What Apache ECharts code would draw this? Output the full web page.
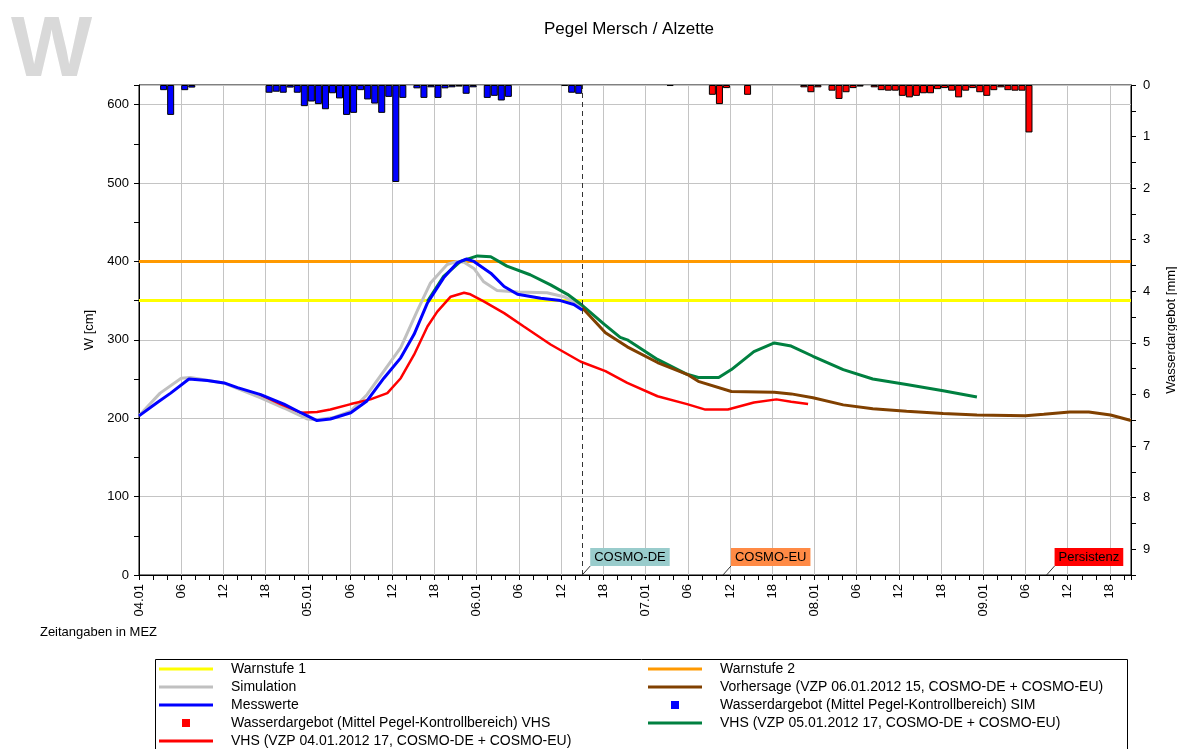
<!DOCTYPE html>
<html><head><meta charset="utf-8">
<script src="https://cdn.jsdelivr.net/npm/echarts@6/dist/echarts.min.js"></script>
<style>html,body{margin:0;padding:0;background:#fff}#c{width:1177px;height:749px}</style>
</head><body><div id="c"></div>
<script>
// Time axis: hours after 04.01.2012 00:00 (MEZ)
const X_MIN = 0, X_MAX = 141;
const dayLabels = {0:'04.01', 24:'05.01', 48:'06.01', 72:'07.01', 96:'08.01', 120:'09.01'};
const W_MAX = 625, MM_MAX = 9.5;
const warnstufe1 = 350, warnstufe2 = 400;
const forecastStart = 63; // VZP 06.01.2012 15

const simulation = [[0,203],[3,232],[6,251],[7.3,252],[12,245],[17.3,226],[20.6,213],[23.9,199],[25.3,198],[27.7,201],[30.1,209],[32.4,230],[34.8,260],[37.2,290],[39.5,336],[41.4,372],[43.8,396],[45.2,400],[46.2,399],[47.6,391],[49,374],[50.9,363],[53.8,361],[58,360],[60.4,355],[62.5,345],[63,341]];
const messwerte = [[0,203],[2.6,220],[4.5,232],[7.1,250],[9.7,248],[12.1,245],[14,239],[17.3,230],[20.6,218],[23,207],[25.3,197],[27.2,199],[30.1,207],[32.4,222],[34.8,251],[37.2,277],[39.1,307],[41,347],[43.3,379],[45.2,398],[46.5,403],[47.6,400],[50,385],[51.9,368],[53.8,358],[57.1,353],[59.9,350],[61.8,345],[63,338]];
const vhs0417 = [[17,231],[20.1,218],[23,207],[25.3,208],[27.2,211],[30.1,218],[32.9,224],[35.3,232],[37.2,251],[39.1,281],[41,317],[42.4,336],[44.3,355],[46.2,360],[47.1,358],[49,349],[51.9,334],[54.7,317],[58.5,294],[62.8,272],[66.3,260],[69.4,245],[73.7,228],[77.9,218],[80.5,211],[83.7,211],[87.4,220],[90.6,224],[92.7,221],[95.1,218]];
const vhs0517 = [[41,349],[43.3,381],[45.7,400],[48.1,407],[50,406],[52.3,394],[55.6,383],[58.5,370],[60.9,358],[63,344],[66.1,320],[68.4,303],[69.4,300],[73.7,275],[77.9,256],[79.5,252],[82.4,252],[84.2,262],[87.4,285],[90.3,296],[92.7,292],[95.8,279],[100.1,262],[104.3,250],[109.1,243],[114.3,235],[119.1,227]];
const vorhersage = [[63,341],[66.3,309],[69.4,291],[73.7,271],[77.9,256],[79.5,247],[84.2,234],[90.3,233],[92.7,231],[95.8,226],[100.1,217],[104.3,212],[109.1,209],[114.3,206],[119.1,204],[126,203],[128.6,205],[132.3,208],[135,208],[138.1,204],[141,197]];

const simBarHours  = [3,4,6,7,18,19,20,21,22,23,24,25,26,27,28,29,30,31,32,33,34,35,36,37,39,40,41,42,43,44,45,46,47,49,50,51,52,60,61,62];
const simBarValues = [0.1,0.58,0.1,0.05,0.15,0.13,0.15,0.05,0.15,0.41,0.32,0.37,0.47,0.16,0.26,0.58,0.54,0.1,0.28,0.36,0.54,0.23,1.88,0.25,0.065,0.25,0.045,0.25,0.065,0.045,0.03,0.17,0.045,0.25,0.21,0.3,0.23,0.02,0.15,0.17];
const vhsBarHours  = [75,81,82,83,86,94,95,96,98,99,100,101,102,104,105,106,107,108,109,110,111,112,113,114,115,116,117,118,119,120,121,122,123,124,125,126];
const vhsBarValues = [0.02,0.19,0.37,0.06,0.19,0.045,0.14,0.045,0.11,0.27,0.14,0.06,0.03,0.045,0.1,0.11,0.11,0.21,0.24,0.21,0.16,0.16,0.08,0.06,0.11,0.24,0.11,0.06,0.14,0.21,0.1,0.045,0.1,0.11,0.11,0.92];

const annotHours  = [63, 83, 129];
const annotTexts  = ['COSMO-DE', 'COSMO-EU', 'Persistenz'];
const annotColors = ['#99CCCC', '#FF8A45', '#FF0000'];

const N_W1 = 'Warnstufe 1', N_W2 = 'Warnstufe 2', N_SIM = 'Simulation', N_MESS = 'Messwerte';
const N_VOR = 'Vorhersage (VZP 06.01.2012 15, COSMO-DE + COSMO-EU)';
const N_BSIM = 'Wasserdargebot (Mittel Pegel-Kontrollbereich) SIM';
const N_BVHS = 'Wasserdargebot (Mittel Pegel-Kontrollbereich) VHS';
const N_V05 = 'VHS (VZP 05.01.2012 17, COSMO-DE + COSMO-EU)';
const N_V04 = 'VHS (VZP 04.01.2012 17, COSMO-DE + COSMO-EU)';

const FONT = 'Liberation Sans, Arial, sans-serif';
const pad2 = n => (n < 10 ? '0' : '') + n;
const sq = 'path://M0,0H10V10H0Z';
const ln3 = 'path://M0,0H54V3H0Z';
const lineItem = name => ({name, icon: ln3});
const sqItem = name => ({name, icon: sq, itemStyle: {borderWidth: 0}});

const chart = echarts.init(document.getElementById('c'), null, {renderer: 'canvas'});
function lineS(name, data, color, width, z) {
  return {name, type: 'line', data, symbol: 'none', showSymbol: false, z: z || 3,
    lineStyle: {color, width}, itemStyle: {color}, animation: false};
}
const legendCommon = {orient: 'vertical', itemWidth: 54, itemHeight: 8, itemGap: 4, padding: 0, selectedMode: false,
  textStyle: {fontSize: 14, color: '#000', fontFamily: FONT, padding: [0,0,0,13], lineHeight: 14}};

const option = {
  animation: false,
  textStyle: {fontFamily: FONT},
  title: {text: 'Pegel Mersch / Alzette', left: 544, top: 21, padding: 0,
    textStyle: {fontSize: 17, fontWeight: 'normal', color: '#000', fontFamily: FONT}},
  grid: {left: 139, right: 46, top: 85, bottom: 174, show: true, borderColor: '#000', borderWidth: 1, outerBoundsMode: 'none', containLabel: false},
  legend: [
    Object.assign({left: 159, top: 662, data: [lineItem(N_W1), lineItem(N_SIM), lineItem(N_MESS), sqItem(N_BVHS), lineItem(N_V04)]}, legendCommon),
    Object.assign({left: 648, top: 662, data: [lineItem(N_W2), lineItem(N_VOR), sqItem(N_BSIM), lineItem(N_V05)]}, legendCommon)
  ],
  xAxis: {type: 'value', min: X_MIN, max: X_MAX, interval: 6,
    axisLine: {lineStyle: {color: '#000', width: 1}},
    axisTick: {length: 5, lineStyle: {color: '#000'}},
    minorTick: {show: true, splitNumber: 3, length: 5, lineStyle: {color: '#000'}},
    splitLine: {show: true, lineStyle: {color: '#c4c4c4', width: 1}},
    axisLabel: {rotate: 90, margin: 9, fontSize: 13, color: '#000', showMaxLabel: true,
      formatter: v => dayLabels[v] !== undefined ? dayLabels[v] : (v % 6 === 0 ? pad2(v % 24) : '')}
  },
  yAxis: [
    {type: 'value', min: 0, max: W_MAX, interval: 100, position: 'left',
      name: 'W [cm]', nameLocation: 'middle', nameGap: 37, nameTextStyle: {fontSize: 13, color: '#000'},
      axisLine: {show: true, lineStyle: {color: '#000'}},
      axisTick: {show: true, length: 5, lineStyle: {color: '#000'}},
      minorTick: {show: true, splitNumber: 2, length: 5, lineStyle: {color: '#000'}},
      splitLine: {show: true, lineStyle: {color: '#c4c4c4', width: 1}},
      axisLabel: {fontSize: 13, color: '#000', margin: 10, formatter: v => (v % 100 === 0 ? String(v) : '')}},
    {type: 'value', min: 0, max: MM_MAX, interval: 1, inverse: true, position: 'right',
      name: 'Wasserdargebot [mm]', nameLocation: 'middle', nameGap: 34, nameTextStyle: {fontSize: 13, color: '#000'},
      axisLine: {show: true, lineStyle: {color: '#000'}},
      axisTick: {show: true, length: 5, lineStyle: {color: '#000'}},
      minorTick: {show: true, splitNumber: 2, length: 5, lineStyle: {color: '#000'}},
      splitLine: {show: false},
      axisLabel: {fontSize: 13, color: '#000', margin: 12, formatter: v => (Number.isInteger(v) ? String(v) : '')}}
  ],
  series: [
    lineS(N_W1, [[X_MIN, warnstufe1], [X_MAX, warnstufe1]], '#FFFF00', 3, 2),
    lineS(N_W2, [[X_MIN, warnstufe2], [X_MAX, warnstufe2]], '#FF9900', 3, 2),
    {name: N_BSIM, type: 'bar', yAxisIndex: 1, barWidth: 7, barGap: '-100%', z: 2,
      data: simBarHours.map((h, i) => [h + 0.5, simBarValues[i]]),
      itemStyle: {color: '#0000FF', borderColor: '#000', borderWidth: 1}},
    {name: N_BVHS, type: 'bar', yAxisIndex: 1, barWidth: 7, barGap: '-100%', z: 2,
      data: vhsBarHours.map((h, i) => [h + 0.5, vhsBarValues[i]]),
      itemStyle: {color: '#FF0000', borderColor: '#000', borderWidth: 1}},
    lineS(N_SIM, simulation, '#C0C0C0', 3, 3),
    lineS(N_V04, vhs0417, '#FF0000', 2.5, 4),
    lineS(N_V05, vhs0517, '#008040', 3, 4),
    lineS(N_VOR, vorhersage, '#804000', 3, 4),
    Object.assign(lineS(N_MESS, messwerte, '#0000FF', 3, 5), {
      markLine: {silent: true, symbol: ['none', 'none'], label: {show: false},
        lineStyle: {color: '#333', type: [5, 4], width: 1}, data: [{xAxis: forecastStart}]}})
  ],
  graphic: [
    {type: 'text', left: 11, top: 9, style: {text: 'W', fill: '#d9d9d9', font: 'bold 86px ' + FONT}},
    {type: 'text', right: 1177 - 157, top: 626, style: {text: 'Zeitangaben in MEZ', fill: '#000', font: '13px ' + FONT}},
    {type: 'rect', shape: {x: 155.5, y: 659.5, width: 972, height: 100}, style: {fill: 'none', stroke: '#000', lineWidth: 1}}
  ]
};
chart.setOption(option);

// Forecast-source annotations placed through the axes
const extra = [];
annotHours.forEach((h, i) => {
  const p = chart.convertToPixel({gridIndex: 0}, [h, 0]);
  const x0 = p[0], y0 = p[1];
  extra.push({type: 'line', shape: {x1: x0, y1: y0, x2: x0 + 8, y2: y0 - 9}, style: {stroke: '#333', lineWidth: 1}, z: 10});
  extra.push({type: 'text', x: x0 + 8, y: y0 - 9, z: 11,
    style: {text: annotTexts[i], fill: '#000', font: '13px ' + FONT, backgroundColor: annotColors[i],
      padding: [3, 4, 2, 4], verticalAlign: 'bottom', align: 'left'}});
});
chart.setOption({graphic: option.graphic.concat(extra)});
</script>
</body></html>
